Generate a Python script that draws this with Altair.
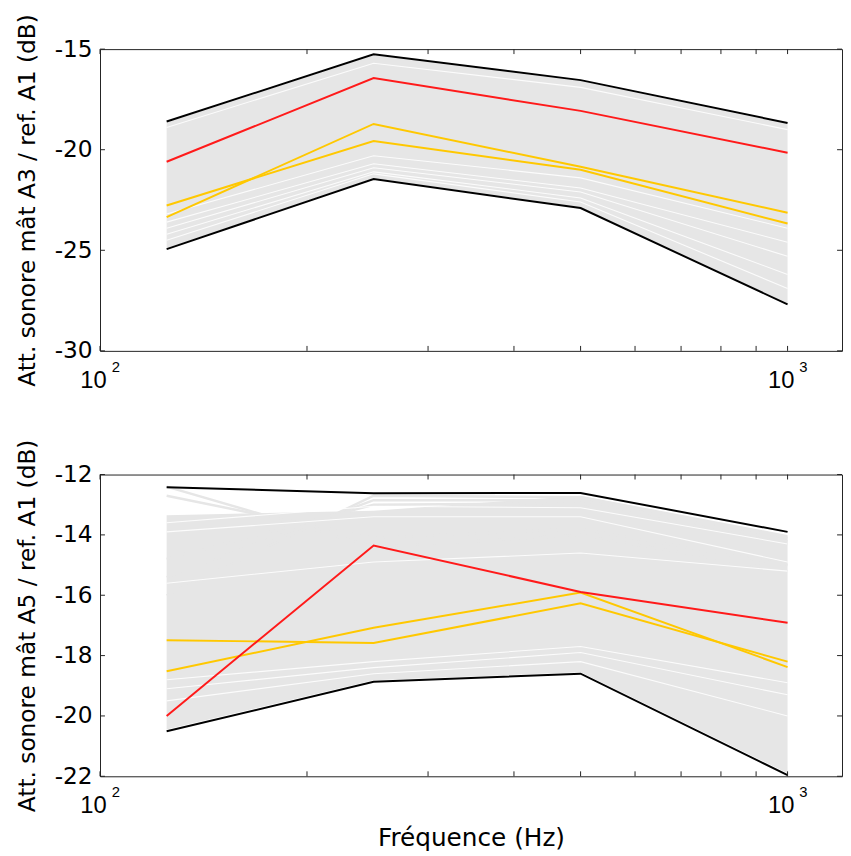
import altair as alt
import pandas as pd

# ---------------- data ----------------
freqs = [125, 250, 500, 1000]

# Panel 1 : A3 / A1
p1_max = [-18.60, -15.26, -16.54, -18.67]
p1_min = [-24.94, -21.46, -22.90, -27.69]
p1_red = [-20.60, -16.44, -18.07, -20.15]
p1_yel1 = [-23.35, -18.72, -20.85, -23.13]
p1_yel2 = [-22.77, -19.57, -21.00, -23.67]
p1_band_hi = [-18.65, -15.30, -16.58, -18.72]
p1_band_lo = [-24.90, -21.42, -22.86, -27.64]
p1_gray_lines = []
p1_white = [
    [-18.9, -15.7, -16.9, -19.0],
    [-23.2, -20.3, -21.4, -23.9],
    [-23.6, -20.7, -21.9, -24.6],
    [-23.9, -20.9, -22.1, -25.3],
    [-24.2, -21.1, -22.4, -26.2],
    [-24.5, -21.2, -22.6, -26.9],
]

# Panel 2 : A5 / A1
p2_max = [-12.42, -12.62, -12.61, -13.90]
p2_min = [-20.51, -18.87, -18.60, -21.96]
p2_red = [-20.00, -14.35, -15.89, -16.91]
p2_yelA = [-17.49, -17.58, -16.27, -18.20]
p2_yelB = [-18.52, -17.08, -15.91, -18.38]
p2_band_hi = [-13.35, -13.20, -12.70, -14.00]
p2_band_lo = [-20.45, -18.82, -18.55, -21.90]
p2_gray_lines = [
    [-12.4, -14.4, -14.0, -15.2],
    [-12.7, -14.1, -13.8, -15.0],
    [-16.0, -12.70, -12.75, -14.1],
    [-15.4, -12.85, -12.85, -14.2],
    [-14.8, -13.00, -12.95, -14.3],
]
p2_white = [
    [-13.6, -13.05, -13.1, -14.3],
    [-13.9, -13.4, -13.4, -14.9],
    [-15.6, -14.9, -14.6, -15.2],
    [-18.8, -18.2, -17.7, -18.9],
    [-19.1, -18.4, -17.9, -19.3],
    [-19.5, -18.6, -18.2, -20.0],
]

x_ticks = [100, 200, 300, 400, 500, 600, 700, 800, 900, 1000]
x_labels = [100, 1000]
x_exponents = ["2", "3"]
p1_yticks = [-30, -25, -20, -15]
p2_yticks = [-22, -20, -18, -16, -14, -12]

FONT = "DejaVu Sans"
XFONT = "Liberation Sans"
W, H = 750, 305
GRAY = "#e6e6e6"
RED = "#ff1a1a"
YEL = "#ffc800"


def one(vals, name=""):
    return pd.DataFrame({"freq": freqs, "val": vals, "id": name})


def many(list_of_vals):
    frames = [one(v, f"s{i}") for i, v in enumerate(list_of_vals)]
    if not frames:
        return pd.DataFrame({"freq": [], "val": [], "id": []})
    return pd.concat(frames, ignore_index=True)


def panel(mx, mn, red, yels, band_hi, band_lo, glines, whites, ydom, yticks, ytitle, xtitle):
    xs = alt.Scale(type="log", domain=[100, 1200], nice=False)
    ys = alt.Scale(domain=ydom, nice=False, zero=False)
    xaxis = alt.Axis(
        values=x_labels,
        labelExpr="'10'",
        ticks=False, domain=False, grid=False,
        labelFont=XFONT, labelFontSize=24, labelColor="#000",
        labelBaseline="alphabetic", labelPadding=37, labelOffset=-7,
        labelFlush=False, labelOverlap=False,
        title=xtitle,
        titleFont=FONT, titleFontSize=25, titleFontWeight="normal",
        titleColor="#000", titlePadding=8,
    )
    yaxis = alt.Axis(
        values=yticks,
        labelExpr="'-' + abs(datum.value)",
        ticks=False, domain=False, grid=False,
        labelFont=FONT, labelFontSize=23.5, labelColor="#000",
        labelPadding=8, labelFlush=False,
        title=ytitle,
        titleFont=FONT, titleFontSize=23.5, titleFontWeight="normal",
        titleColor="#000", titlePadding=15,
    )
    X = alt.X("freq:Q", scale=xs, axis=xaxis)
    Y = alt.Y("val:Q", scale=ys, axis=yaxis)

    band_df = pd.DataFrame({"freq": freqs, "val": band_lo, "hi": band_hi})
    band = alt.Chart(band_df).mark_area(color=GRAY, opacity=1).encode(
        x=X, y=Y, y2="hi:Q")
    layers = [band]
    if glines:
        layers.append(alt.Chart(many(glines)).mark_line(color=GRAY, strokeWidth=2.5).encode(
            x=X, y=Y, detail="id:N"))
    layers.append(alt.Chart(many(whites)).mark_line(color="#ffffff", strokeWidth=1.1, opacity=0.85).encode(
        x=X, y=Y, detail="id:N"))
    layers.append(alt.Chart(many([mx, mn])).mark_line(color="#000000", strokeWidth=2).encode(
        x=X, y=Y, detail="id:N"))
    layers.append(alt.Chart(many(yels)).mark_line(color=YEL, strokeWidth=2).encode(
        x=X, y=Y, detail="id:N"))
    layers.append(alt.Chart(one(red, "red")).mark_line(color=RED, strokeWidth=2).encode(
        x=X, y=Y))
    # exponents of the 10^n tick labels
    exp_df = pd.DataFrame({"freq": x_labels, "e": x_exponents})
    layers.append(alt.Chart(exp_df).mark_text(
        font=XFONT, fontSize=15, color="#000", align="center", baseline="alphabetic",
        dx=16).encode(x=X, y=alt.value(H + 21), text="e:N"))
    # inward ticks (box style)
    xt = pd.DataFrame({"freq": x_ticks})
    yt = pd.DataFrame({"val": yticks})
    layers.append(alt.Chart(xt).mark_rule(color="#222", strokeWidth=1).encode(
        x=X, y=alt.value(0), y2=alt.value(5)))
    layers.append(alt.Chart(xt).mark_rule(color="#222", strokeWidth=1).encode(
        x=X, y=alt.value(H), y2=alt.value(H - 5)))
    layers.append(alt.Chart(yt).mark_rule(color="#222", strokeWidth=1).encode(
        y=Y, x=alt.value(0), x2=alt.value(5)))
    layers.append(alt.Chart(yt).mark_rule(color="#222", strokeWidth=1).encode(
        y=Y, x=alt.value(W - 5), x2=alt.value(W)))
    return alt.layer(*layers).properties(width=W, height=H)


top = panel(p1_max, p1_min, p1_red, [p1_yel1, p1_yel2], p1_band_hi, p1_band_lo,
            p1_gray_lines, p1_white, [-30, -15], p1_yticks,
            "Att. sonore mât A3 / ref. A1 (dB)", None)
bot = panel(p2_max, p2_min, p2_red, [p2_yelA, p2_yelB], p2_band_hi, p2_band_lo,
            p2_gray_lines, p2_white, [-22, -12], p2_yticks,
            "Att. sonore mât A5 / ref. A1 (dB)", "Fréquence (Hz)")

chart = alt.vconcat(top, bot, spacing=125, bounds="flush").properties(
    padding={"left": 7, "top": 0, "right": 0, "bottom": 0}
).configure_view(stroke="#222", strokeWidth=1)

chart.save("out.html", embed_options={"renderer": "svg", "actions": False})
